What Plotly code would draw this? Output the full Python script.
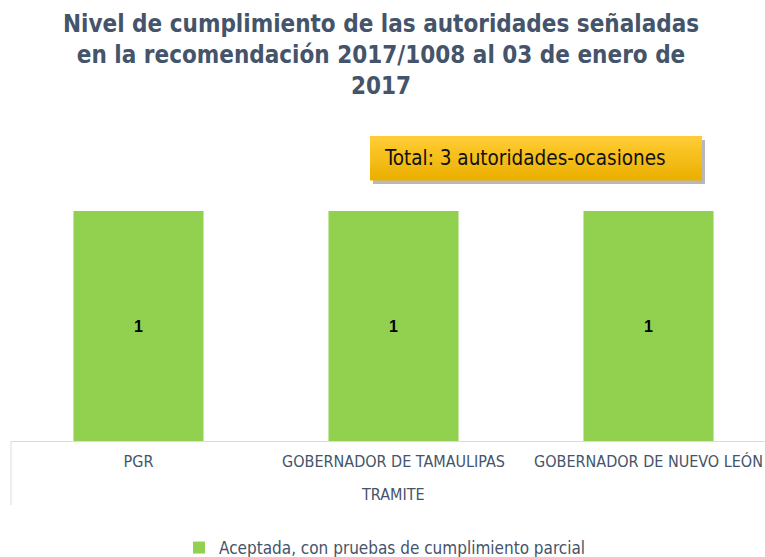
import plotly.graph_objects as go

# ---- data ----
group_label = "TRAMITE"
authorities = ["PGR", "GOBERNADOR DE TAMAULIPAS", "GOBERNADOR DE NUEVO LEÓN"]
values = [1, 1, 1]
series_name = "Aceptada, con pruebas de cumplimiento parcial"
title_text = ("Nivel de cumplimiento de las autoridades señaladas<br>"
              "en la recomendación 2017/1008 al 03 de enero de<br>2017")
total_text = "Total: 3 autoridades-ocasiones"

W, H = 765, 557
ML, MR, MT, MB = 11, 0, 165, 116
plot_w = W - ML - MR
ph = H - MT - MB
cat_px = 255.0
FONT = "DejaVu Sans Condensed, DejaVu Sans"


def sx(px):  # screen px -> paper x
    return (px - ML) / plot_w


def sy(py):  # screen py -> paper y
    return (H - MB - py) / ph


fig = go.Figure()
fig.add_trace(go.Bar(
    x=authorities,
    y=values,
    name=series_name,
    marker=dict(color="#92D050", line=dict(width=0)),
    width=0.51,
    text=[str(v) for v in values],
    textposition="inside",
    insidetextanchor="middle",
    textfont=dict(family="Liberation Sans, Arial", size=16, color="#000000", weight="bold"),
    showlegend=True,
))

shapes = []
# left divider of the category axis
shapes.append(dict(type="line", xref="paper", yref="paper", x0=0, x1=0,
                   y0=0, y1=sy(505), line=dict(color="#D6DCE4", width=1)))
# total box: shadow + gradient
bx0, bx1, by0, by1 = 370, 702, 136, 180
shapes.append(dict(type="rect", xref="paper", yref="paper",
                   x0=sx(bx0 + 3), x1=sx(bx1 + 3), y0=sy(by1 + 4), y1=sy(by0 + 4),
                   fillcolor="rgba(0,0,0,0.28)", line=dict(width=0), layer="above"))
n = 14
top = (255, 204, 51)
bot = (236, 176, 0)
for i in range(n):
    t = i / (n - 1)
    c = tuple(int(round(top[k] + (bot[k] - top[k]) * t)) for k in range(3))
    y_a = by0 + (by1 - by0) * i / n
    y_b = by0 + (by1 - by0) * (i + 1) / n
    shapes.append(dict(type="rect", xref="paper", yref="paper",
                       x0=sx(bx0), x1=sx(bx1), y0=sy(y_b + 0.5), y1=sy(y_a),
                       fillcolor="rgb(%d,%d,%d)" % c, line=dict(width=0), layer="above"))

annotations = [
    dict(text=title_text, xref="paper", yref="paper", x=sx(381), y=sy(55),
         xanchor="center", yanchor="middle", showarrow=False, align="center",
         font=dict(family=FONT, size=24, color="#44546A", weight="bold")),
    dict(text=total_text, xref="paper", yref="paper", x=sx(382), y=sy(158),
         xanchor="left", yanchor="middle", showarrow=False,
         font=dict(family=FONT, size=20.5, color="#111111")),
    dict(text=group_label, xref="paper", yref="paper", x=sx(393), y=sy(494),
         xanchor="center", yanchor="middle", showarrow=False,
         font=dict(family=FONT, size=16, color="#44546A")),
]

fig.update_layout(
    width=W, height=H,
    margin=dict(l=ML, r=MR, t=MT, b=MB, pad=0),
    paper_bgcolor="white", plot_bgcolor="white",
    xaxis=dict(type="category", range=[-0.5, -0.5 + plot_w / cat_px],
               showline=True, linecolor="#D6DCE4", linewidth=1,
               ticks="", showgrid=False, ticklabelstandoff=6,
               tickfont=dict(family=FONT, size=16, color="#44546A")),
    yaxis=dict(range=[0, 1.2], visible=False, showgrid=False, zeroline=False),
    legend=dict(orientation="h", x=sx(385), xanchor="center", xref="paper",
                y=(H - 548) / H, yref="container", yanchor="middle",
                itemwidth=30,
                font=dict(family=FONT, size=17, color="#44546A")),
    shapes=shapes,
    annotations=annotations,
)

fig.write_html("out.html",
               config={"displayModeBar": False},
               post_script="document.body.style.margin='0';document.body.style.overflow='hidden';")
